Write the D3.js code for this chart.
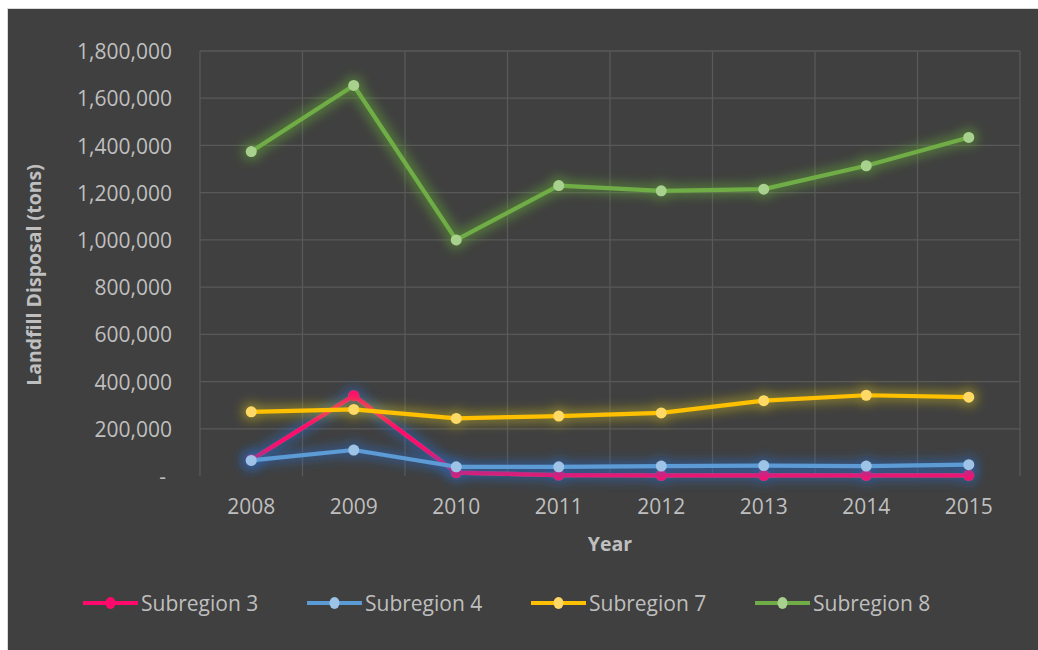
<!DOCTYPE html>
<html><head><meta charset="utf-8">
<script src="https://cdn.jsdelivr.net/npm/d3@7/dist/d3.min.js"></script>
<style>
html,body{margin:0;padding:0;background:#fff;}
svg{display:block;}
text{font-family:"Open Sans",sans-serif;}
</style></head>
<body>
<svg id="chart" width="1038" height="650"></svg>
<script>
const years = ["2008","2009","2010","2011","2012","2013","2014","2015"];
const sub3 = [68000, 340000, 14000, 4000, 3000, 3000, 3000, 3000];
const sub4 = [66000, 110000, 39000, 39000, 42000, 44000, 42000, 48000];
const sub7 = [272000, 282000, 244000, 254000, 267000, 319000, 342000, 334000];
const sub8 = [1374000, 1654000, 1000000, 1230000, 1208000, 1215000, 1314000, 1434000];
const yTicks = [0, 200000, 400000, 600000, 800000, 1000000, 1200000, 1400000, 1600000, 1800000];
const seriesNames = ["Subregion 3","Subregion 4","Subregion 7","Subregion 8"];

const series = [
  {name: seriesNames[0], values: sub3, line:"#ff0a6c", marker:"#ff0a6c", glow:"#2a68c0"},
  {name: seriesNames[1], values: sub4, line:"#5b9bd5", marker:"#9dc3e6", glow:"#2a68c0"},
  {name: seriesNames[2], values: sub7, line:"#ffc000", marker:"#ffd966", glow:"#c4b31a"},
  {name: seriesNames[3], values: sub8, line:"#70ad47", marker:"#a9d18e", glow:"#62a834"}
];

const svg = d3.select("#chart");
svg.append("rect").attr("x",7.5).attr("y",8.5).attr("width",1040).attr("height",650)
  .attr("fill","#404040").attr("stroke","#d9d9d9").attr("stroke-width",1);

const pLeft=200, pRight=1020, pTop=51, pBottom=476;
const x = d3.scaleBand().domain(years).range([pLeft,pRight]);
const y = d3.scaleLinear().domain([0,1800000]).range([pBottom,pTop]);

const defs = svg.append("defs");
series.forEach((s,i)=>{
  const f = defs.append("filter").attr("id","glow"+i).attr("filterUnits","userSpaceOnUse")
    .attr("x",0).attr("y",0).attr("width",1038).attr("height",650);
  f.append("feMorphology").attr("in","SourceAlpha").attr("operator","dilate").attr("radius",3).attr("result","d");
  f.append("feGaussianBlur").attr("in","d").attr("stdDeviation",5.5).attr("result","b");
  f.append("feFlood").attr("flood-color",s.glow).attr("flood-opacity",0.55).attr("result","c");
  f.append("feComposite").attr("in","c").attr("in2","b").attr("operator","in").attr("result","g");
  const m = f.append("feMerge");
  m.append("feMergeNode").attr("in","g");
  m.append("feMergeNode").attr("in","SourceGraphic");
});

const grid = svg.append("g").attr("stroke","#595959").attr("stroke-width",1.3);
yTicks.forEach(t=>{
  if(t===0) return;
  grid.append("line").attr("x1",pLeft).attr("x2",pRight).attr("y1",y(t)).attr("y2",y(t));
});
years.forEach(yr=>{
  grid.append("line").attr("x1",x(yr)).attr("x2",x(yr)).attr("y1",pTop).attr("y2",pBottom);
});
grid.append("line").attr("x1",pRight).attr("x2",pRight).attr("y1",pTop).attr("y2",pBottom);

const yAxis = d3.axisLeft(y).tickValues(yTicks).tickSize(0).tickPadding(0)
  .tickFormat(d=> d===0 ? "-" : d3.format(",")(d));
const ya = svg.append("g").attr("transform",`translate(${pLeft-28},0)`).call(yAxis);
ya.select(".domain").remove();
ya.selectAll("text").attr("fill","#bfbfbf").style("font-size","21px")
  .attr("font-family","Open Sans").attr("dy","0.36em");
ya.selectAll(".tick").filter(d=>d===0).select("text").attr("dx","-6");

const xAxis = d3.axisBottom(x).tickSize(0).tickPadding(0);
const xa = svg.append("g").attr("transform",`translate(0,${pBottom+38})`).call(xAxis);
xa.select(".domain").remove();
xa.selectAll("text").attr("fill","#bfbfbf").style("font-size","21px")
  .attr("font-family","Open Sans").attr("dy","0");

svg.append("text").attr("x",610).attr("y",551).attr("text-anchor","middle")
  .attr("fill","#bfbfbf").style("font-size","19.5px").style("font-weight","bold").text("Year");
svg.append("text").attr("transform","translate(41,275) rotate(-90)").attr("text-anchor","middle")
  .attr("fill","#bfbfbf").style("font-size","19.5px").style("font-weight","bold").text("Landfill Disposal (tons)");

const line = d3.line().x((d,i)=>x(years[i])+x.bandwidth()/2).y(d=>y(d));
series.forEach((s,i)=>{
  const g = svg.append("g").attr("filter",`url(#glow${i})`);
  g.append("path").datum(s.values).attr("d",line).attr("fill","none")
    .attr("stroke",s.line).attr("stroke-width",4.2).attr("stroke-linejoin","round").attr("stroke-linecap","round");
  g.selectAll("circle").data(s.values).enter().append("circle")
    .attr("cx",(d,j)=>x(years[j])+x.bandwidth()/2).attr("cy",d=>y(d)).attr("r",5.5)
    .attr("fill",s.marker);
});

const lg = svg.append("g");
series.forEach((s,i)=>{
  const lx = 83 + i*224, ly = 603;
  lg.append("line").attr("x1",lx).attr("x2",lx+55).attr("y1",ly).attr("y2",ly)
    .attr("stroke",s.line).attr("stroke-width",4.2);
  lg.append("ellipse").attr("cx",lx+27.5).attr("cy",ly).attr("rx",5).attr("ry",6).attr("fill",s.marker);
  lg.append("text").attr("x",lx+58).attr("y",ly).attr("dy","0.36em")
    .attr("fill","#bfbfbf").style("font-size","21px").text(s.name);
});
</script>
</body></html>
